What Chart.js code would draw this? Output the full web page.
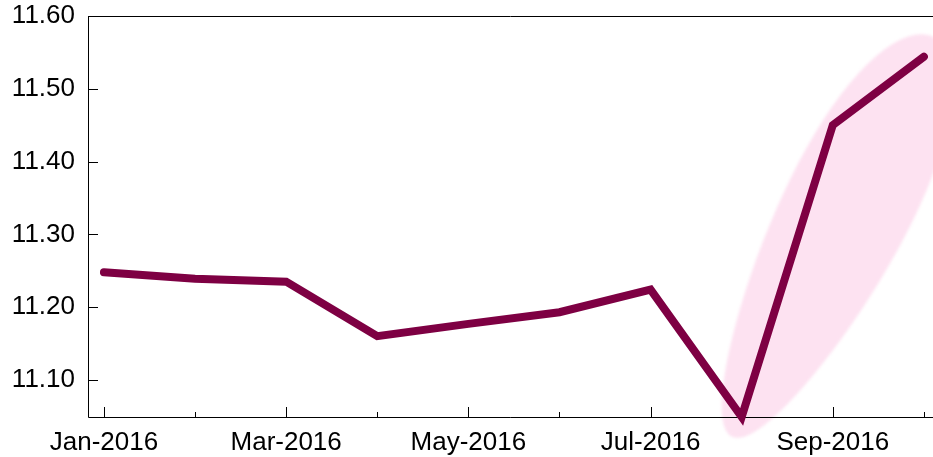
<!DOCTYPE html>
<html>
<head>
<meta charset="utf-8">
<script src="https://cdn.jsdelivr.net/npm/chart.js@4.4.0/dist/chart.umd.min.js"></script>
<style>
  html, body { margin: 0; padding: 0; background: #fff; }
  #wrap { width: 933px; height: 457px; }
</style>
</head>
<body>
<div id="wrap"><canvas id="chart"></canvas></div>
<script>
// months, one point each
const months = ['Jan-2016', 'Feb-2016', 'Mar-2016', 'Apr-2016', 'May-2016', 'Jun-2016',
                'Jul-2016', 'Aug-2016', 'Sep-2016', 'Oct-2016'];
const values = [11.248, 11.239, 11.235, 11.160, 11.177, 11.193, 11.224, 11.049, 11.450, 11.544];
const xLabelTicks = [0, 2, 4, 6, 8];       // labelled months
const yTicks = [11.10, 11.20, 11.30, 11.40, 11.50, 11.60];
const highlightFrom = 7;                    // Aug..Oct shaded
const highlightTo = 9;

const lineColor = '#7e0043';
const font = { family: '"Liberation Sans", Arial, sans-serif', size: 26 };

// pink blob behind the last points, then the frame and inward ticks
const decorations = {
  id: 'decorations',
  beforeDatasetsDraw(chart) {
    const { ctx, chartArea: a, scales: { x, y } } = chart;
    const p0 = { x: x.getPixelForValue(highlightFrom), y: y.getPixelForValue(values[highlightFrom]) };
    const p1 = { x: x.getPixelForValue(highlightTo), y: y.getPixelForValue(values[highlightTo]) };
    const cx = (p0.x + p1.x) / 2, cy = (p0.y + p1.y) / 2;
    const half = Math.hypot(p1.x - p0.x, p1.y - p0.y) / 2 + 22;
    const ang = Math.atan2(p1.y - p0.y, p1.x - p0.x);

    // egg shaped outline: narrower at the low end, wider at the top
    ctx.save();
    ctx.filter = 'blur(1.5px)';
    ctx.fillStyle = '#fde2f1';
    ctx.translate(cx, cy);
    ctx.rotate(ang);
    ctx.beginPath();
    const n = 80;
    for (let k = 0; k <= n; k++) {
      const t = (k / n) * Math.PI * 2;
      const u = half * Math.cos(t);
      const b = 63 + 0.055 * u;
      const v = b * Math.sin(t);
      if (k === 0) ctx.moveTo(u, v); else ctx.lineTo(u, v);
    }
    ctx.closePath();
    ctx.fill();
    ctx.restore();

    ctx.save();
    ctx.strokeStyle = '#000';
    ctx.lineWidth = 1;
    ctx.beginPath();
    // left, bottom, top frame
    ctx.moveTo(a.left + 0.5, a.top + 0.5);
    ctx.lineTo(a.left + 0.5, a.bottom + 0.5);
    ctx.lineTo(chart.width, a.bottom + 0.5);
    ctx.moveTo(a.left, a.top + 0.5);
    ctx.lineTo(chart.width, a.top + 0.5);
    // y ticks pointing in
    yTicks.forEach(v => {
      const py = Math.round(y.getPixelForValue(v)) + 0.5;
      ctx.moveTo(a.left, py);
      ctx.lineTo(a.left + 10, py);
    });
    // x ticks: long on labelled months, short on the others
    months.forEach((m, i) => {
      const px = Math.round(x.getPixelForValue(i)) + 0.5;
      const len = xLabelTicks.includes(i) ? 10 : 5;
      ctx.moveTo(px, a.bottom);
      ctx.lineTo(px, a.bottom - len);
    });
    ctx.stroke();
    ctx.restore();
  }
};

new Chart(document.getElementById('chart'), {
  type: 'line',
  data: {
    datasets: [{
      data: values.map((v, i) => ({ x: i, y: v })),
      borderColor: lineColor,
      borderWidth: 8,
      borderCapStyle: 'round',
      borderJoinStyle: 'miter',
      pointRadius: 0,
      tension: 0,
      fill: false,
      clip: false
    }]
  },
  options: {
    responsive: true,
    maintainAspectRatio: false,
    animation: false,
    layout: { padding: { top: 16, right: 0, left: 0, bottom: 0 } },
    plugins: { legend: { display: false }, tooltip: { enabled: false } },
    scales: {
      x: {
        type: 'linear',
        min: -0.175,
        max: 9.1,
        grid: { display: false },
        border: { display: false },
        afterBuildTicks: s => { s.ticks = xLabelTicks.map(v => ({ value: v })); },
        afterFit: s => { s.height = 40; s.paddingLeft = 0; s.paddingRight = 0; },
        ticks: {
          callback: v => months[v],
          font: font,
          color: '#000',
          padding: 2,
          maxRotation: 0,
          autoSkip: false
        }
      },
      y: {
        min: 11.049,
        max: 11.60,
        grid: { display: false },
        border: { display: false },
        afterBuildTicks: s => { s.ticks = yTicks.map(v => ({ value: v })); },
        afterFit: s => { s.width = 88; s.paddingTop = 0; s.paddingBottom = 0; },
        ticks: {
          callback: v => v.toFixed(2),
          font: font,
          color: '#000',
          padding: 5
        }
      }
    }
  },
  plugins: [decorations]
});
</script>
</body>
</html>
